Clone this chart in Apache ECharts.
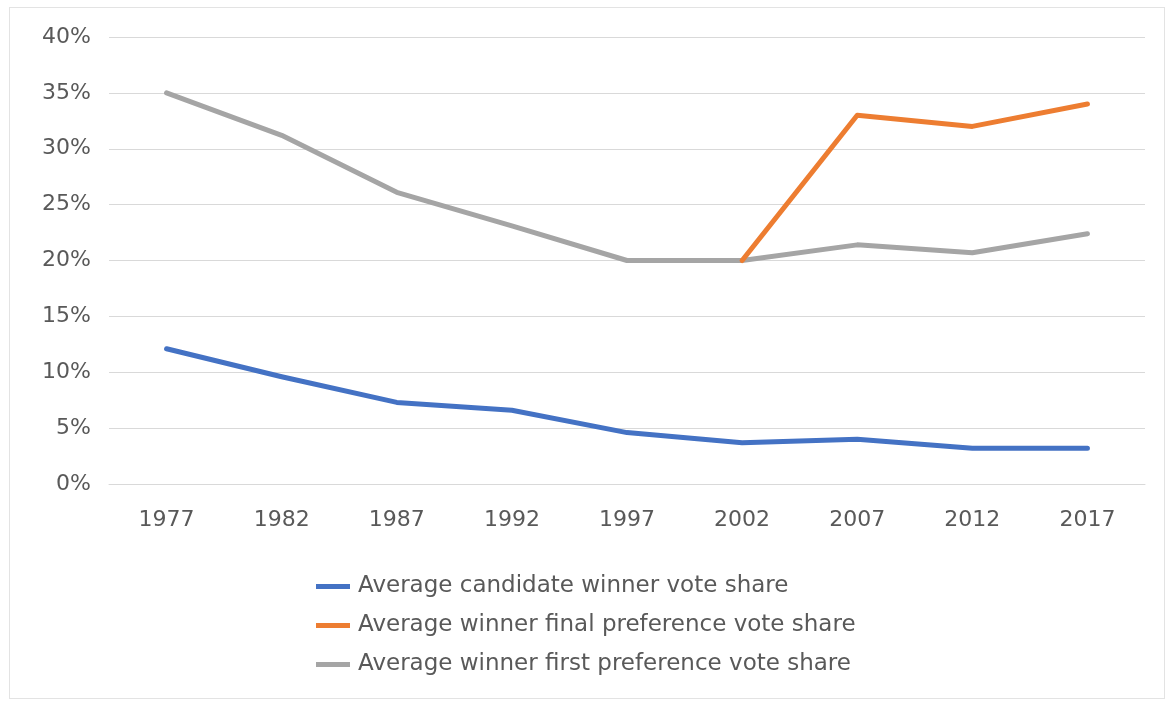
<!DOCTYPE html>
<html>
<head>
<meta charset="utf-8">
<script src="https://cdn.jsdelivr.net/npm/echarts@6/dist/echarts.min.js"></script>
<style>
html,body{margin:0;padding:0;background:#fff;}
#frame{position:absolute;left:9px;top:7px;width:1156px;height:692px;border:1px solid #e3e3e3;box-sizing:border-box;}
#chart{position:absolute;left:0;top:0;width:1172px;height:704px;}
</style>
</head>
<body>
<div id="frame"></div>
<div id="chart"></div>
<script>
const years = ['1977','1982','1987','1992','1997','2002','2007','2012','2017'];
const candidateWinner = [12.1, 9.6, 7.3, 6.6, 4.6, 3.7, 4.0, 3.2, 3.2];
const finalPreference = [null, null, null, null, null, 20.0, 33.0, 32.0, 34.0];
const firstPreference = [35.0, 31.2, 26.1, 23.1, 20.0, 20.0, 21.4, 20.7, 22.4];
const seriesNames = [
  'Average candidate winner vote share',
  'Average winner final preference vote share',
  'Average winner first preference vote share'
];
const colors = ['#4472C4', '#ED7D31', '#A5A5A5'];

const chart = echarts.init(document.getElementById('chart'), null, {renderer: 'canvas'});
const font = 'DejaVu Sans';
chart.setOption({
  backgroundColor: 'transparent',
  animation: false,
  grid: {left: 109, right: 27, top: 37, bottom: 220},
  legend: {
    orient: 'vertical',
    left: 316,
    top: 575,
    padding: 0,
    icon: 'rect',
    itemWidth: 34,
    itemHeight: 5,
    itemGap: 16,
    data: seriesNames,
    textStyle: {fontFamily: font, fontSize: 23, lineHeight: 22, color: '#595959', padding: [0, 0, 0, 3]}
  },
  xAxis: {
    type: 'category',
    data: years,
    boundaryGap: true,
    axisLine: {show: true, lineStyle: {color: '#d9d9d9', width: 1}},
    axisTick: {show: false},
    axisLabel: {fontFamily: font, fontSize: 22, color: '#595959', margin: 25}
  },
  yAxis: {
    type: 'value',
    min: 0, max: 40, interval: 5,
    axisLine: {show: false},
    axisTick: {show: false},
    splitLine: {lineStyle: {color: '#d9d9d9', width: 1}},
    axisLabel: {fontFamily: font, fontSize: 22, color: '#595959', margin: 18, formatter: '{value}%'}
  },
  series: [
    {name: seriesNames[0], type: 'line', data: candidateWinner, showSymbol: false, symbol: 'none',
     lineStyle: {width: 5, color: colors[0], cap: 'round', join: 'round'}, itemStyle: {color: colors[0]}},
    {name: seriesNames[2], type: 'line', data: firstPreference, showSymbol: false, symbol: 'none',
     lineStyle: {width: 5, color: colors[2], cap: 'round', join: 'round'}, itemStyle: {color: colors[2]}},
    {name: seriesNames[1], type: 'line', data: finalPreference, showSymbol: false, symbol: 'none',
     lineStyle: {width: 5, color: colors[1], cap: 'round', join: 'round'}, itemStyle: {color: colors[1]}}
  ]
});
</script>
</body>
</html>
